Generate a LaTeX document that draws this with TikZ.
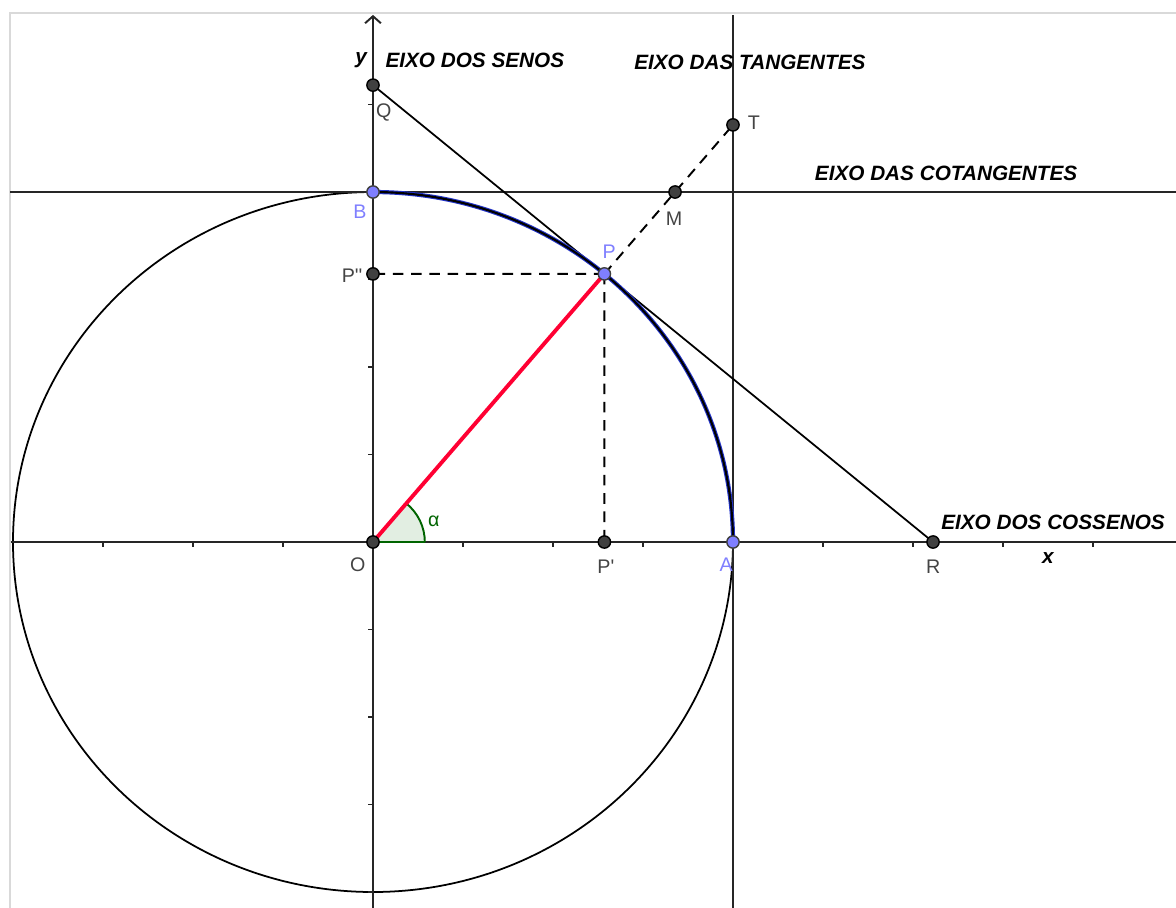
\documentclass[tikz,border=0pt]{standalone}
\usepackage{fontspec}
\setmainfont{Liberation Sans}
\usetikzlibrary{arrows.meta}
\definecolor{PtD} {HTML}{404040}
\definecolor{PtB} {HTML}{7F7FFF}
\definecolor{ArcB}{HTML}{2233C8}
\definecolor{RadR}{HTML}{FF0033}
\definecolor{AngG}{HTML}{006400}
\definecolor{AngF}{HTML}{E2EEE2}
\definecolor{FrmG}{HTML}{D9D9D9}
\definecolor{LblG}{HTML}{444444}
\tikzset{
  PTK/.style={
    circle, draw=black, fill=PtD,
    inner sep=0pt, minimum size=3.5pt, line width=0.4pt
  },
  PTB/.style={PTK, fill=PtB, draw=PtD},
  LBL/.style={font=\fontsize{5.6}{6.5}\selectfont, text=LblG, inner sep=0pt},
  LBB/.style={LBL, text=PtB},
  AXT/.style={font=\fontsize{5.9}{7}\selectfont\bfseries\itshape, inner sep=0pt},
  AXS/.style={line width=0.55pt, draw=black!85},
  DSH/.style={line width=0.55pt, dash pattern=on 3pt off 2.2pt},
}

\begin{document}
\begin{tikzpicture}[x=3.6cm,y=3.5cm]
\useasboundingbox (-1.0361,-1.0457) rectangle (2.2306,1.5486);

%================ FRAME =================
\draw[FrmG,line width=0.6pt] (-1.008,-1.0457) -- (-1.008,1.511) -- (2.2306,1.511);

%================ POINT COORDINATES =================
\coordinate (O)  at (0,0);
\coordinate (A)  at (1,0);
\coordinate (B)  at (0,1);
\coordinate (P)  at (50:1);
\coordinate (Px) at (0.6428,0);
\coordinate (Py) at (0,0.7660);
\coordinate (Q)  at (0,1.3054);
\coordinate (R)  at (1.5557,0);
\coordinate (T)  at (1,1.1918);
\coordinate (M)  at (0.8391,1);

\coordinate (xL) at (-1.006,0);
\coordinate (xR) at (2.2306,0);
\coordinate (yB) at (0,-1.0457);
\coordinate (yT) at (0,1.506);

%================ CIRCLE AND AXES =================
\draw[line width=0.5pt] (O) circle[radius=1];

\draw[AXS] (xL) -- (xR);
\draw[AXS,-{Straight Barb[length=2pt,width=4.5pt]}] (yB) -- (yT);

\foreach \t in {-0.75,-0.5,-0.25,0.25,0.5,0.75,1.25,1.5,1.75,2.0}
  \draw[AXS] (\t,0) -- (\t,-0.0143);
\foreach \t in {-1,-0.75,-0.5,-0.25,0.25,0.5,0.75,1.25}
  \draw[AXS] (0,\t) -- (-0.0139,\t);

%================ TANGENT AND COTANGENT AXES =================
\draw[AXS] (1,-1.0457) -- (1,1.506);
\draw[AXS] (-1.008,1) -- (2.2306,1);

%================ SECANT LINE =================
\draw[line width=0.5pt] (Q) -- (R);

%================ ANGLE =================
\fill[AngF] (O) -- (0.144,0) arc[start angle=0,end angle=50,radius=0.144] -- cycle;
\draw[AngG,line width=0.55pt] (0.144,0) arc[start angle=0,end angle=50,radius=0.144];
\draw[AngG,line width=0.55pt] (O) -- (0.144,0);

%================ RADIUS AND ARC =================
\draw[RadR,line width=1.1pt] (O) -- (P);
\draw[ArcB,line width=1.2pt] (A) arc[start angle=0,end angle=90,radius=1];
\draw[black,line width=0.6pt] (A) arc[start angle=0,end angle=90,radius=1];

%================ PROJECTIONS =================
\draw[DSH] (P) -- (Py);
\draw[DSH] (P) -- (Px);
\draw[DSH] (P) -- (T);

%================ POINTS =================
\node[PTK] (nO)  at (O)  {};
\node[PTK] (nPx) at (Px) {};
\node[PTK] (nPy) at (Py) {};
\node[PTK] (nQ)  at (Q)  {};
\node[PTK] (nR)  at (R)  {};
\node[PTK] (nT)  at (T)  {};
\node[PTK] (nM)  at (M)  {};
\node[PTB] (nA)  at (A)  {};
\node[PTB] (nB)  at (B)  {};
\node[PTB] (nP)  at (P)  {};

%================ POINT LABELS =================
\node[LBL] (lO)  at (-0.042,-0.066) {O};
\node[LBL] (lPx) at (0.647,-0.071)  {P\textquotesingle};
\node[LBL] (lPy) at (-0.058,0.760)  {P\textquotesingle\textquotesingle};
\node[LBL] (lQ)  at (0.030,1.226)   {Q};
\node[LBL] (lR)  at (1.556,-0.071)  {R};
\node[LBL] (lT)  at (1.058,1.197)   {T};
\node[LBL] (lM)  at (0.836,0.923)   {M};
\node[LBB] (lA)  at (0.981,-0.066)  {A};
\node[LBB] (lB)  at (-0.036,0.943)  {B};
\node[LBB] (lP)  at (0.656,0.829)   {P};
\node[LBL,text=AngG] (lal) at (0.169,0.060) {α};

%================ AXIS TITLES =================
\node[AXT] (ly) at (-0.033,1.377) {y};
\node[AXT] (lx) at (1.875,-0.046) {x};
\node[AXT] (tsen) at (0.283,1.377) {EIXO DOS SENOS};
\node[AXT] (ttan) at (1.047,1.371) {EIXO DAS TANGENTES};
\node[AXT] (tcot) at (1.592,1.054) {EIXO DAS COTANGENTES};
\node[AXT] (tcos) at (1.889,0.057) {EIXO DOS COSSENOS};

\end{tikzpicture}
\end{document}
